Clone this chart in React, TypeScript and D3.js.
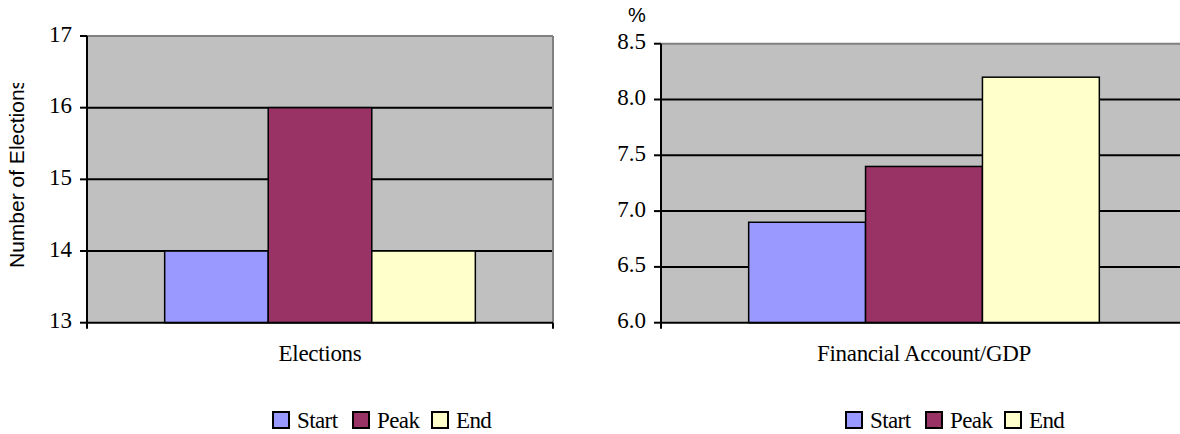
import React from "react";
import * as d3 from "d3";

const seriesNames = ["Start", "Peak", "End"];
const seriesColors = ["#9999FF", "#993366", "#FFFFCC"];

const electionsCategory = "Elections";
const electionsValues = [14, 16, 14];
const electionsTicks = [13, 14, 15, 16, 17];

const financeCategory = "Financial Account/GDP";
const financeValues = [6.9, 7.4, 8.2];
const financeTicks = [6.0, 6.5, 7.0, 7.5, 8.0, 8.5];

const SERIF = '"Liberation Serif", "Times New Roman", Times, serif';
const SANS = '"Liberation Sans", Arial, sans-serif';

type PanelProps = {
  category: string;
  values: number[];
  ticks: number[];
  fmt: (v: number) => string;
  x0: number;
  x1: number;
  y0: number;
  y1: number;
  legendX: number;
  idPrefix: string;
};

function Panel({ category, values, ticks, fmt, x0, x1, y0, y1, legendX, idPrefix }: PanelProps) {
  const y = d3.scaleLinear().domain([ticks[0], ticks[ticks.length - 1]]).range([y1, y0]);
  const xCat = d3.scaleBand<string>().domain([category]).range([x0, x1]);
  const xSer = d3
    .scaleBand<string>()
    .domain(seriesNames)
    .range([xCat(category)!, xCat(category)! + xCat.bandwidth()])
    .paddingInner(0)
    .paddingOuter(0.75);
  const legendOffsets = [0, 80, 159];
  const serifStyle = { fontFamily: SERIF };
  return (
    <g>
      <defs>
        <clipPath id={idPrefix + "-clip"}>
          <rect x={x0} y={y0 - 2} width={x1 - x0 + 4} height={y1 - y0 + 10} />
        </clipPath>
      </defs>
      <rect x={x0} y={y0} width={x1 - x0} height={y1 - y0} fill="#C0C0C0" />
      {ticks.slice(1, -1).map((t) => (
        <line key={"g" + t} x1={x0} x2={x1} y1={y(t)} y2={y(t)} stroke="#000" strokeWidth={2} />
      ))}
      <line x1={x0} x2={x1} y1={y0} y2={y0} stroke="#808080" strokeWidth={2} />
      <line x1={x1} x2={x1} y1={y0} y2={y1} stroke="#808080" strokeWidth={2} />
      <g clipPath={`url(#${idPrefix}-clip)`}>
        {seriesNames.map((s, i) => (
          <rect
            key={s}
            x={xSer(s)!}
            y={y(values[i])}
            width={xSer.bandwidth()}
            height={y1 - y(values[i])}
            fill={seriesColors[i]}
            stroke="#000"
            strokeWidth={1.5}
          />
        ))}
      </g>
      <line x1={x0} x2={x0} y1={y0} y2={y1} stroke="#000" strokeWidth={2} />
      <line x1={x0} x2={x1} y1={y1} y2={y1} stroke="#000" strokeWidth={2} />
      <line x1={x0} x2={x0} y1={y1} y2={y1 + 6} stroke="#000" strokeWidth={2} />
      <line x1={x1} x2={x1} y1={y1} y2={y1 + 6} stroke="#000" strokeWidth={2} />
      {ticks.map((t) => (
        <g key={"t" + t}>
          <line x1={x0 - 7} x2={x0} y1={y(t)} y2={y(t)} stroke="#000" strokeWidth={2} />
          <text
            x={x0 - 15}
            y={y(t) - 2}
            textAnchor="end"
            dominantBaseline="central"
            style={serifStyle}
            fontSize={23}
            fill="#000"
          >
            {fmt(t)}
          </text>
        </g>
      ))}
      <text
        x={xCat(category)! + xCat.bandwidth() / 2}
        y={361}
        textAnchor="middle"
        style={serifStyle}
        fontSize={23}
        letterSpacing={-0.3}
        fill="#000"
      >
        {category}
      </text>
      {seriesNames.map((s, i) => (
        <g key={"l" + s}>
          <rect
            x={legendX + legendOffsets[i]}
            y={412}
            width={16}
            height={16}
            fill={seriesColors[i]}
            stroke="#000"
            strokeWidth={2}
          />
          <text
            x={legendX + legendOffsets[i] + 24}
            y={427.5}
            style={serifStyle}
            fontSize={23}
            letterSpacing={-0.6}
            fill="#000"
          >
            {s}
          </text>
        </g>
      ))}
    </g>
  );
}

export default function App() {
  return (
    <svg
      width={1180}
      height={434}
      style={{ position: "absolute", left: 0, top: 0, background: "#fff" }}
    >
      <defs>
        <clipPath id="ytitle-clip">
          <rect x={0} y={83} width={60} height={300} />
        </clipPath>
      </defs>
      <Panel
        category={electionsCategory}
        values={electionsValues}
        ticks={electionsTicks}
        fmt={d3.format("d")}
        x0={87}
        x1={553}
        y0={36}
        y1={322.7}
        legendX={273}
        idPrefix="left"
      />
      <Panel
        category={financeCategory}
        values={financeValues}
        ticks={financeTicks}
        fmt={d3.format(".1f")}
        x0={661}
        x1={1187}
        y0={43.7}
        y1={322.7}
        legendX={846}
        idPrefix="right"
      />
      <g clipPath="url(#ytitle-clip)">
        <text
          transform="translate(24,268) rotate(-90)"
          style={{ fontFamily: SANS }}
          fontSize={21}
          fill="#000"
        >
          Number of Elections
        </text>
      </g>
      <text x={628} y={22} style={{ fontFamily: SANS }} fontSize={20} fill="#000">
        %
      </text>
    </svg>
  );
}
